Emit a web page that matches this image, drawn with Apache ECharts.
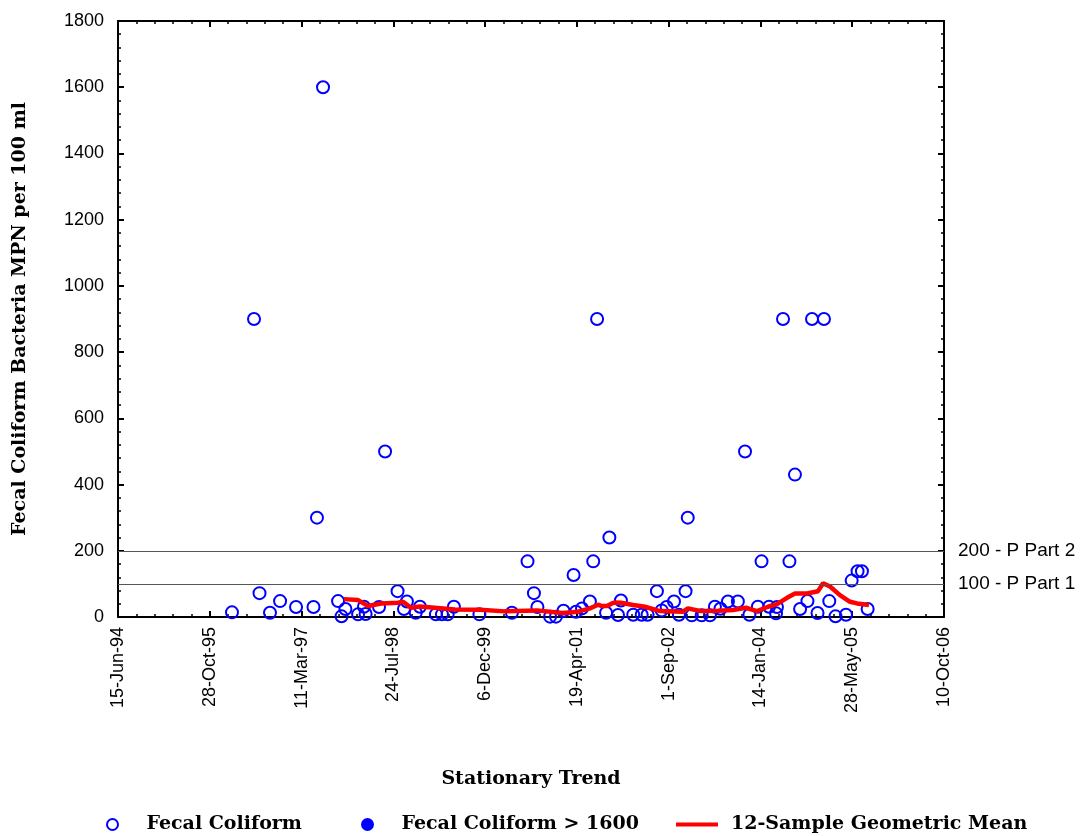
<!DOCTYPE html>
<html>
<head>
<meta charset="utf-8">
<script src="https://cdn.jsdelivr.net/npm/echarts@6/dist/echarts.min.js"></script>
<style>
  html, body { margin: 0; padding: 0; background: #ffffff; }
  #chart { width: 1084px; height: 836px; }
</style>
</head>
<body>
<div id="chart"></div>
<script>
// Axis origin for the date scale; x values are days counted from this date
const START_DATE = '1994-06-15';

// Individual fecal coliform samples (MPN per 100 ml)
const sampleDates = [
  '1996-02-26', '1996-06-25', '1996-07-25', '1996-09-20', '1996-11-14',
  '1997-02-09', '1997-05-15', '1997-06-03', '1997-07-06', '1997-09-26',
  '1997-10-15', '1997-11-05', '1998-01-13', '1998-02-14', '1998-02-23',
  '1998-05-07', '1998-06-09', '1998-08-16', '1998-09-20', '1998-10-06',
  '1998-11-23', '1998-12-16', '1999-03-13', '1999-04-15', '1999-05-16',
  '1999-06-19', '1999-11-05', '2000-04-30', '2000-07-24', '2000-08-28',
  '2000-09-16', '2000-11-24', '2000-12-26', '2001-02-05', '2001-04-01',
  '2001-04-14', '2001-05-17', '2001-06-29', '2001-07-17', '2001-08-07',
  '2001-09-25', '2001-10-13', '2001-11-29', '2001-12-15', '2002-02-20',
  '2002-04-07', '2002-05-09', '2002-06-29', '2002-07-25', '2002-08-21',
  '2002-09-30', '2002-10-27', '2002-12-02', '2002-12-14', '2003-01-05',
  '2003-02-28', '2003-04-14', '2003-05-11', '2003-06-10', '2003-07-21',
  '2003-09-13', '2003-10-22', '2003-11-15', '2003-12-31', '2004-01-20',
  '2004-03-01', '2004-04-08', '2004-04-13', '2004-05-16', '2004-06-20',
  '2004-07-20', '2004-08-17', '2004-09-26', '2004-10-21', '2004-11-20',
  '2004-12-25', '2005-01-23', '2005-02-26', '2005-04-24', '2005-05-25',
  '2005-06-26', '2005-07-20', '2005-08-20'
];
const fecalColiform = [
  14, 900, 72, 13, 48,
  30, 30, 300, 1600, 48,
  2, 24, 8, 31, 9,
  30, 500, 78, 24, 47,
  13, 31, 8, 8, 8,
  31, 8, 13, 168, 72,
  30, 1, 1, 19, 127,
  16, 26, 47, 168, 900,
  13, 240, 6, 50, 7,
  7, 7, 78, 20, 30,
  47, 7, 78, 300, 5,
  5, 5, 31, 25, 47,
  47, 500, 7, 31, 168,
  31, 11, 30, 900, 168,
  430, 24, 48, 900, 12,
  900, 48, 2, 7, 110,
  138, 138, 24
];

// Samples reported above the 1600 detection ceiling (none in this record)
const exceedDates = [];
const exceedValues = [];

// Running 12-sample geometric mean
const meanDates = [
  '1997-10-28', '1998-01-13', '1998-03-08', '1998-05-18', '1998-08-18',
  '1998-09-15', '1998-10-28', '1998-12-16', '1999-06-25', '1999-11-08',
  '2000-03-23', '2000-09-14', '2001-01-28', '2001-04-25', '2001-06-29',
  '2001-08-12', '2001-09-03', '2001-09-30', '2001-10-27', '2001-11-13',
  '2001-12-15', '2002-02-19', '2002-04-25', '2002-07-16', '2002-11-18',
  '2002-12-15', '2003-02-19', '2003-05-28', '2003-08-17', '2003-10-27',
  '2003-12-26', '2004-02-24', '2004-04-13', '2004-06-07', '2004-07-20',
  '2004-09-24', '2004-11-23', '2004-12-20', '2005-01-27', '2005-03-22',
  '2005-05-16', '2005-06-23', '2005-08-27'
];
const geoMean = [
  54, 51, 33, 41, 43,
  46, 28, 32, 23, 22,
  17, 20, 12, 16, 26,
  37, 33, 33, 41, 44,
  43, 36, 31, 18, 16,
  26, 18, 19, 21, 28,
  18, 31, 39, 58, 71,
  71, 78, 102, 92, 66,
  46, 41, 36
];

// Regulatory reference levels
const limitLevels = [200, 100];
const limitLabels = ['200 - P Part 2', '100 - P Part 1'];

// Axis extents
const X_MAX_DAYS = 4500, X_STEP_DAYS = 500;
const Y_MAX = 1800, Y_STEP = 200;

const DAY_MS = 86400000;
const startMs = Date.parse(START_DATE + 'T00:00:00Z');
const MONTHS = ['Jan','Feb','Mar','Apr','May','Jun','Jul','Aug','Sep','Oct','Nov','Dec'];

function dayOf(s) {
  return Math.round((Date.parse(s + 'T00:00:00Z') - startMs) / DAY_MS);
}
function dateLabel(days) {
  const d = new Date(startMs + days * DAY_MS);
  return d.getUTCDate() + '-' + MONTHS[d.getUTCMonth()] + '-' + String(d.getUTCFullYear()).slice(2);
}
function pairs(dates, values) {
  return dates.map((s, i) => [dayOf(s), values[i]]);
}

const SANS = '"Liberation Sans", Arial, sans-serif';
const SERIF = '"DejaVu Serif", serif';
const BLUE = '#0000ff';
const RED = '#ff0000';

const tickCommon = {
  axisLine: { show: true, onZero: false, lineStyle: { color: '#000', width: 2 } },
  axisTick: { show: true, inside: true, length: 6, lineStyle: { color: '#000', width: 2 } },
  minorTick: { show: true, splitNumber: 5, length: 3, lineStyle: { color: '#000', width: 1.5 } },
  splitLine: { show: false },
  minorSplitLine: { show: false }
};

const legendText = { fontFamily: SERIF, fontWeight: 'bold', fontSize: 19, color: '#000' };

const chart = echarts.init(document.getElementById('chart'), null, { renderer: 'canvas' });

chart.setOption({
  animation: false,
  backgroundColor: '#ffffff',
  grid: { left: 118, right: 140, top: 21, bottom: 219, containLabel: false },
  xAxis: [
    Object.assign({
      type: 'value', position: 'bottom', min: 0, max: X_MAX_DAYS, interval: X_STEP_DAYS,
      name: 'Stationary Trend', nameLocation: 'middle', nameGap: 153,
      nameTextStyle: { fontFamily: SERIF, fontWeight: 'bold', fontSize: 19, color: '#000' },
      axisLabel: {
        rotate: 90, margin: 10, formatter: dateLabel,
        fontFamily: SANS, fontSize: 18, color: '#000'
      }
    }, tickCommon),
    Object.assign({
      type: 'value', position: 'top', min: 0, max: X_MAX_DAYS, interval: X_STEP_DAYS,
      axisLabel: { show: false }
    }, tickCommon)
  ],
  yAxis: [
    Object.assign({
      type: 'value', position: 'left', min: 0, max: Y_MAX, interval: Y_STEP,
      name: 'Fecal Coliform Bacteria MPN per 100 ml', nameLocation: 'middle', nameGap: 88,
      nameTextStyle: { fontFamily: SERIF, fontWeight: 'bold', fontSize: 19, color: '#000' },
      axisLabel: {
        margin: 14, fontFamily: SANS, fontSize: 18, color: '#000',
        formatter: v => String(v)
      }
    }, tickCommon),
    Object.assign({
      type: 'value', position: 'right', min: 0, max: Y_MAX, interval: Y_STEP,
      axisLabel: { show: false }
    }, tickCommon)
  ],
  legend: [
    {
      left: 101, top: 810, itemWidth: 58, itemHeight: 11, textStyle: legendText,
      data: [{ name: 'Fecal Coliform', icon: 'circle',
        itemStyle: { color: 'transparent', borderColor: BLUE, borderWidth: 2, opacity: 1 } }]
    },
    {
      left: 356, top: 810, itemWidth: 58, itemHeight: 13, textStyle: legendText,
      data: [{ name: 'Fecal Coliform > 1600', icon: 'circle', itemStyle: { color: BLUE, opacity: 1 } }]
    },
    {
      left: 671, top: 810, itemWidth: 42, itemHeight: 4,
      textStyle: Object.assign({ padding: [0, 0, 0, 8] }, legendText),
      data: [{ name: '12-Sample Geometric Mean', icon: 'rect', itemStyle: { color: RED } }],
      itemStyle: { color: RED }
    }
  ],
  series: [
    {
      name: 'Fecal Coliform',
      type: 'scatter',
      xAxisIndex: 0, yAxisIndex: 0,
      symbol: 'circle', symbolSize: 12,
      itemStyle: { color: 'transparent', borderColor: BLUE, borderWidth: 2, opacity: 1 },
      data: pairs(sampleDates, fecalColiform),
      markLine: {
        silent: true, symbol: 'none',
        lineStyle: { color: '#555', width: 1.2, type: 'solid' },
        label: {
          show: true, position: 'end', distance: 14,
          fontFamily: SANS, fontSize: 19, color: '#000',
          formatter: p => limitLabels[limitLevels.indexOf(p.value)]
        },
        data: limitLevels.map(v => ({ yAxis: v }))
      },
      z: 3
    },
    {
      name: 'Fecal Coliform > 1600',
      type: 'scatter',
      symbol: 'circle', symbolSize: 12,
      itemStyle: { color: BLUE, opacity: 1 },
      data: pairs(exceedDates, exceedValues),
      z: 3
    },
    {
      name: '12-Sample Geometric Mean',
      type: 'line',
      showSymbol: false,
      lineStyle: { color: RED, width: 4.5 },
      itemStyle: { color: RED },
      data: pairs(meanDates, geoMean),
      z: 4
    }
  ]
});
</script>
</body>
</html>
